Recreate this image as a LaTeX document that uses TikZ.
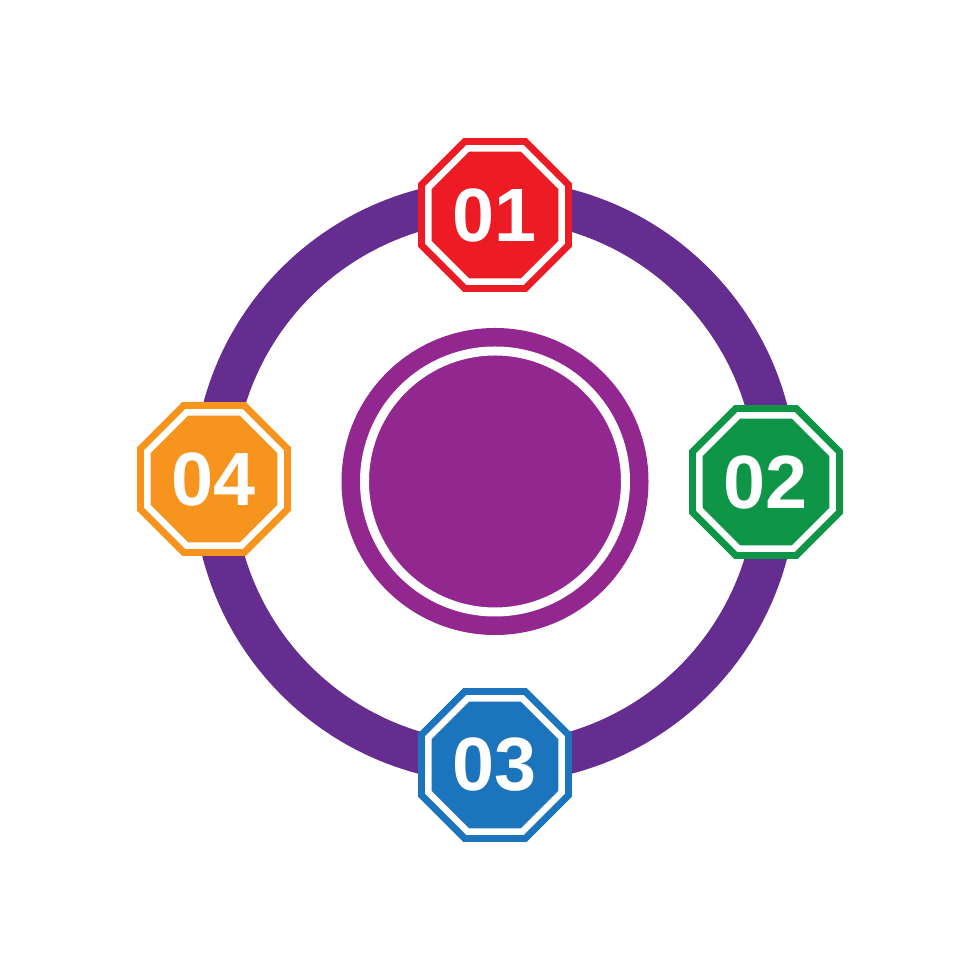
\documentclass[tikz,border=0pt]{standalone}
\usepackage{fontspec}
\setmainfont{Liberation Sans}
\usetikzlibrary{shapes.geometric}
\definecolor{ringpurple}{HTML}{662D91}
\definecolor{hubpurple}{HTML}{92278F}
\definecolor{stepred}{HTML}{ED1C24}
\definecolor{stepgreen}{HTML}{0E9547}
\definecolor{stepblue}{HTML}{1C75BC}
\definecolor{steporange}{HTML}{F7941D}
\tikzset{
 badge/.style={regular polygon, regular polygon sides=8, minimum size=2.88cm,
  inner sep=0pt, outer sep=0pt, fill=#1, draw=#1, line width=0.14cm,
  double=white, double distance=0.13cm, text=white,
  font=\bfseries\fontsize{43}{43}\selectfont},
 hub/.style={circle, minimum size=5.22cm, inner sep=0pt, fill=hubpurple,
  draw=hubpurple, line width=0.37cm, double=white, double distance=0.18cm}
}
\begin{document}
\begin{tikzpicture}[line join=miter]
 \useasboundingbox (0,0) rectangle (19.6,19.6);
 \coordinate (O) at (9.9,9.97);
 % outer ring
 \draw[ringpurple, line width=0.82cm] (O) circle (5.63);
 % centre disc
 \node[hub] (core) at (O) {};
 % numbered badges
 \node[badge=stepred] (s1) at (9.9,15.3) {01};
 \node[badge=stepgreen] (s2) at (15.32,9.96) {02};
 \node[badge=stepblue] (s3) at (9.9,4.3) {03};
 \node[badge=steporange] (s4) at (4.28,10.02) {04};
\end{tikzpicture}
\end{document}
